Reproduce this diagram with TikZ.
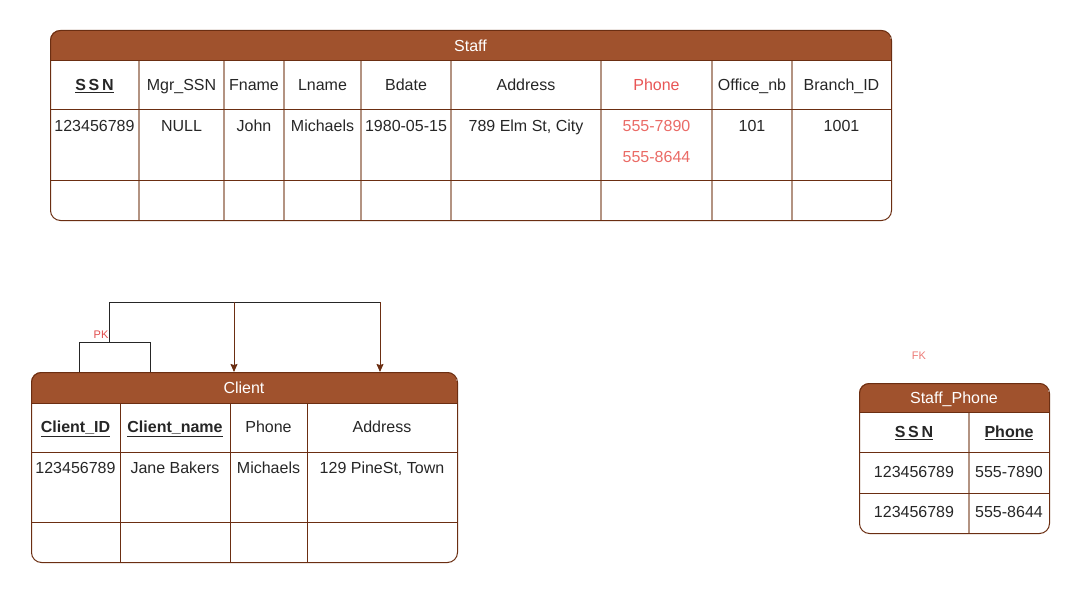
\documentclass[tikz,border=0pt]{standalone}
\usepackage{fontspec}
\setmainfont{Liberation Sans}
\usetikzlibrary{arrows.meta}
\definecolor{hdr}{HTML}{A0522D}
\definecolor{brd}{HTML}{6B2E12}
\definecolor{tan}{HTML}{B39382}
\definecolor{redh}{HTML}{E85555}
\definecolor{redv}{HTML}{EA6B66}
\definecolor{pkred}{HTML}{E04B4B}
\definecolor{fkred}{HTML}{EC7B77}
\tikzset{
  cell/.style={font=\fontsize{16}{19}\selectfont, text=black!85, inner sep=0pt, anchor=center, text height=11.5pt, text depth=0pt},
  hdrtext/.style={cell, text=white},
  keytext/.style={cell, font=\fontsize{16}{19}\selectfont\bfseries},
  tblbox/.style={draw=brd, line width=1pt, rounded corners=10pt, inner sep=0pt, anchor=north west},
  rowline/.style={draw=brd, line width=1pt},
  colline/.style={draw=tan, line width=1.3pt},
  colline2/.style={draw=brd, line width=1pt},
  conn/.style={draw=black!85, line width=1pt},
  arr/.style={draw=brd, line width=1pt, -{Stealth[length=8pt,width=7pt,inset=1pt]}},
  smalllbl/.style={font=\fontsize{11}{13}\selectfont, inner sep=0pt, text height=8pt, text depth=0pt},
}
\begin{document}
\begin{tikzpicture}[x=1pt,y=-1pt]
\useasboundingbox (0,0) rectangle (1080,594);
% ===== Staff =====
\begin{scope}
\clip[rounded corners=10pt] (50,30) rectangle (891,220);
\fill[hdr] (50,30) rectangle (891,61);
\end{scope}
\foreach \x in {139,224,284,361,451,601,712,792} \draw[colline] (\x,61) -- (\x,220);
\draw[rowline] (50,61) -- (891,61);
\draw[rowline] (50,110) -- (891,110);
\draw[rowline] (50,180) -- (891,180);
\node[tblbox, minimum width=841pt, minimum height=190pt] (staff) at (50,30) {};
\node[hdrtext] (staffT) at (470.5,46) {Staff};
\node[keytext] (sSSN) at (94.5,85) {\underline{S\,S\,N}};
\node[cell] (sMgr) at (181.5,85) {Mgr\_SSN};
\node[cell] (sF) at (254,85) {Fname};
\node[cell] (sL) at (322.5,85) {Lname};
\node[cell] (sB) at (406,85) {Bdate};
\node[cell] (sA) at (526,85) {Address};
\node[cell, text=redh] (sP) at (656.5,85) {Phone};
\node[cell] (sO) at (752,85) {Office\_nb};
\node[cell] (sBr) at (841.5,85) {Branch\_ID};
\node[cell] (dSSN) at (94.5,126) {123456789};
\node[cell] (dMgr) at (181.5,126) {NULL};
\node[cell] (dF) at (254,126) {John};
\node[cell] (dL) at (322.5,126) {Michaels};
\node[cell] (dB) at (406,126) {1980-05-15};
\node[cell] (dA) at (526,126) {789 Elm St, City};
\node[cell, text=redv] (dP1) at (656.5,126) {555-7890};
\node[cell, text=redv] (dP2) at (656.5,157) {555-8644};
\node[cell] (dO) at (752,126) {101};
\node[cell] (dBr) at (841.5,126) {1001};
% ===== Client =====
\begin{scope}
\clip[rounded corners=10pt] (31,372) rectangle (457,562);
\fill[hdr] (31,372) rectangle (457,403);
\end{scope}
\foreach \x in {120,230,307} \draw[colline2] (\x,403) -- (\x,562);
\draw[rowline] (31,403) -- (457,403);
\draw[rowline] (31,452) -- (457,452);
\draw[rowline] (31,522) -- (457,522);
\node[tblbox, minimum width=426pt, minimum height=190pt] (client) at (31,372) {};
\node[hdrtext] (clientT) at (244,388) {Client};
\node[keytext] (cID) at (75.5,427) {\underline{Client\_ID}};
\node[keytext] (cName) at (175,427) {\underline{Client\_name}};
\node[cell] (cPh) at (268.5,427) {Phone};
\node[cell] (cAd) at (382,427) {Address};
\node[cell] (cdID) at (75.5,468) {123456789};
\node[cell] (cdName) at (175,468) {Jane Bakers};
\node[cell] (cdPh) at (268.5,468) {Michaels};
\node[cell] (cdAd) at (382,468) {129 PineSt, Town};
% connectors
\coordinate (b1) at (79,372);
\coordinate (b2) at (79,342);
\coordinate (b3) at (150,342);
\coordinate (b4) at (150,372);
\coordinate (m1) at (109,342);
\coordinate (m2) at (109,302);
\coordinate (m3) at (234,302);
\coordinate (m4) at (380,302);
\coordinate (t1) at (234,372);
\coordinate (t2) at (380,372);
\draw[conn] (b1) -- (b2) -- (b3) -- (b4);
\draw[conn] (m1) -- (m2) -- (m4);
\draw[arr] (m3) -- (t1);
\draw[arr] (m4) -- (t2);
\node[smalllbl, text=pkred] (pk) at (101,334) {PK};
% ===== Staff_Phone =====
\begin{scope}
\clip[rounded corners=10pt] (859,383) rectangle (1049,533);
\fill[hdr] (859,383) rectangle (1049,412);
\end{scope}
\draw[colline] (969,412) -- (969,533);
\draw[rowline] (859,412) -- (1049,412);
\draw[rowline] (859,452) -- (1049,452);
\draw[rowline] (859,493) -- (1049,493);
\node[tblbox, minimum width=190pt, minimum height=150pt] (sphone) at (859,383) {};
\node[hdrtext] (sphT) at (954,398) {Staff\_Phone};
\node[keytext] (spSSN) at (914,432) {\underline{S\,S\,N}};
\node[keytext] (spPh) at (1009,432) {\underline{Phone}};
\node[cell] (spd1) at (914,472) {123456789};
\node[cell] (spd2) at (1009,472) {555-7890};
\node[cell] (spd3) at (914,512) {123456789};
\node[cell] (spd4) at (1009,512) {555-8644};
\node[smalllbl, text=fkred] (fk) at (919,355) {FK};
\end{tikzpicture}
\end{document}
